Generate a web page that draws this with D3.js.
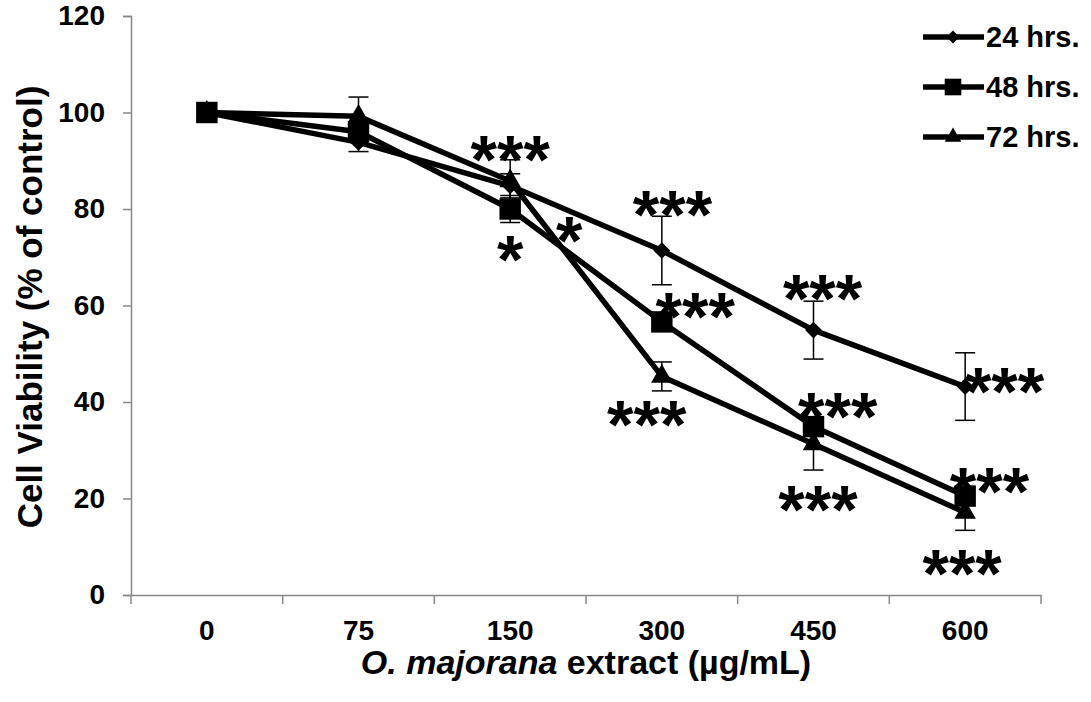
<!DOCTYPE html>
<html lang="en">
<head>
  <meta charset="UTF-8">
  <title>Cell Viability</title>
  <style>
    body {
      margin: 0;
      background: #fff;
      font-family: "Liberation Sans", Arial, sans-serif;
    }
  </style>
</head>
<body>
  <div id="chart"></div>

  <script src="https://d3js.org/d3.v7.min.js"></script>
  <script>
    // Doses on the x axis
    const doses = ['0', '75', '150', '300', '450', '600'];

    // Mean viability per time point
    const viab24 = [100, 93.8, 84.8, 71.4, 54.9, 43.2];
    const viab48 = [100, 96.0, 80.0, 56.6, 34.9, 20.5];
    const viab72 = [100, 99.2, 85.8, 45.3, 31.3, 17.1];

    // Error bar half-widths
    const err24 = [0, 1.9, 2.5, 7.1, 6.0, 7.0];
    const err48 = [0, 1.5, 2.8, 1.5, 2.0, 1.5];
    const err72 = [0, 4.0, 4.4, 3.0, 5.4, 3.7];

    const seriesNames = ['24 hrs.', '48 hrs.', '72 hrs.'];
    const yTicks = [0, 20, 40, 60, 80, 100, 120];

    // Significance marks: dose, offset within the band, value where the mark sits
    const sigDose = ['150', '150', '150', '300', '300', '300', '450', '450', '450', '600', '600', '600'];
    const sigShift = [0, 0, 0.39, 0.07, 0.22, -0.1, 0.06, 0.16, 0.03, 0.26, 0.16, -0.02];
    const sigValue = [93.5, 72.7, 76.6, 82, 61, 38.6, 64.7, 40.3, 20.9, 45.3, 24.6, 7.7];
    const sigText = ['***', '*', '*', '***', '***', '***', '***', '***', '***', '***', '***', '***'];

    const width = 1091;
    const height = 702;
    const margin = { top: 16, right: 50, bottom: 107, left: 131 };

    const svg = d3.select('#chart')
      .append('svg')
      .attr('width', width)
      .attr('height', height);

    const x = d3.scaleBand()
      .domain(doses)
      .range([margin.left, width - margin.right]);

    const y = d3.scaleLinear()
      .domain([0, 120])
      .range([height - margin.bottom, margin.top]);

    // y axis
    const yAxis = svg.append('g')
      .attr('transform', `translate(${margin.left},0)`)
      .call(d3.axisLeft(y).tickValues(yTicks).tickSize(8).tickPadding(18));
    yAxis.selectAll('line, path').attr('stroke', '#888').attr('stroke-width', 1.5);
    yAxis.selectAll('text')
      .attr('font-size', 28)
      .attr('font-weight', 'bold')
      .attr('fill', '#000')
      .attr('font-family', '"Liberation Sans", Arial, sans-serif');

    // x axis with ticks at band edges
    const xAxis = svg.append('g')
      .attr('transform', `translate(0,${y(0)})`)
      .call(d3.axisBottom(x).tickSize(0).tickPadding(25));
    xAxis.select('path').attr('stroke', '#888').attr('stroke-width', 1.5);
    xAxis.selectAll('text')
      .attr('font-size', 28)
      .attr('font-weight', 'bold')
      .attr('fill', '#000')
      .attr('font-family', '"Liberation Sans", Arial, sans-serif');
    const edges = doses.map(d => x(d)).concat([x.range()[1]]);
    xAxis.selectAll('.edge')
      .data(edges)
      .enter()
      .append('line')
      .attr('x1', d => d)
      .attr('x2', d => d)
      .attr('y1', 0)
      .attr('y2', 9)
      .attr('stroke', '#888')
      .attr('stroke-width', 1.5);

    const cx = d => x(d) + x.bandwidth() / 2;

    const series = [
      { name: seriesNames[0], values: viab24, errs: err24, symbol: d3.symbolSquare, size: 140, rotate: 45 },
      { name: seriesNames[1], values: viab48, errs: err48, symbol: d3.symbolSquare, size: 460, rotate: 0 },
      { name: seriesNames[2], values: viab72, errs: err72, symbol: d3.symbolTriangle, size: 200, rotate: 0 }
    ];

    // Error bars
    series.forEach(s => {
      const g = svg.append('g');
      s.values.forEach((v, i) => {
        if (!s.errs[i]) return;
        const px = cx(doses[i]);
        const y1 = y(v + s.errs[i]);
        const y2 = y(v - s.errs[i]);
        g.append('line').attr('x1', px).attr('x2', px).attr('y1', y1).attr('y2', y2)
          .attr('stroke', '#000').attr('stroke-width', 1.5);
        [y1, y2].forEach(yy => {
          g.append('line').attr('x1', px - 10).attr('x2', px + 10).attr('y1', yy).attr('y2', yy)
            .attr('stroke', '#000').attr('stroke-width', 1.5);
        });
      });
    });

    // Lines
    const line = d3.line()
      .x((d, i) => cx(doses[i]))
      .y(d => y(d));

    series.forEach(s => {
      svg.append('path')
        .datum(s.values)
        .attr('fill', 'none')
        .attr('stroke', '#000')
        .attr('stroke-width', 5.5)
        .attr('stroke-linejoin', 'round')
        .attr('d', line);
    });

    // Markers
    series.forEach(s => {
      svg.append('g')
        .selectAll('path')
        .data(s.values)
        .enter()
        .append('path')
        .attr('d', d3.symbol().type(s.symbol).size(s.size))
        .attr('transform', (d, i) => `translate(${cx(doses[i])},${y(d)}) rotate(${s.rotate})`)
        .attr('fill', '#000');
    });

    // Significance asterisks
    svg.append('g')
      .selectAll('text')
      .data(sigText)
      .enter()
      .append('text')
      .attr('x', (d, i) => cx(sigDose[i]) + sigShift[i] * x.bandwidth())
      .attr('y', (d, i) => y(sigValue[i]) + 39)
      .attr('text-anchor', 'middle')
      .attr('font-size', 68)
      .attr('font-weight', 'bold')
      .text(d => d);

    // Legend
    const legend = svg.append('g');
    series.forEach((s, i) => {
      const ly = 37 + i * 50;
      legend.append('line')
        .attr('x1', 923).attr('x2', 984).attr('y1', ly).attr('y2', ly)
        .attr('stroke', '#000').attr('stroke-width', 5.5);
      legend.append('path')
        .attr('d', d3.symbol().type(s.symbol).size(s.size * 0.6))
        .attr('transform', `translate(953,${ly}) rotate(${s.rotate})`)
        .attr('fill', '#000');
      legend.append('text')
        .attr('x', 986)
        .attr('y', ly + 10)
        .attr('font-size', 29)
        .attr('font-weight', 'bold')
        .text(s.name);
    });

    // Axis titles
    svg.append('text')
      .attr('transform', `translate(42,307) rotate(-90)`)
      .attr('text-anchor', 'middle')
      .attr('font-size', 35)
      .attr('font-weight', 'bold')
      .text('Cell Viability (% of control)');

    const xTitle = svg.append('text')
      .attr('x', (x.range()[0] + x.range()[1]) / 2)
      .attr('y', 674)
      .attr('text-anchor', 'middle')
      .attr('font-size', 34)
      .attr('font-weight', 'bold');
    xTitle.append('tspan').attr('font-style', 'italic').text('O. majorana');
    xTitle.append('tspan').text(' extract (µg/mL)');
  </script>
</body>
</html>
